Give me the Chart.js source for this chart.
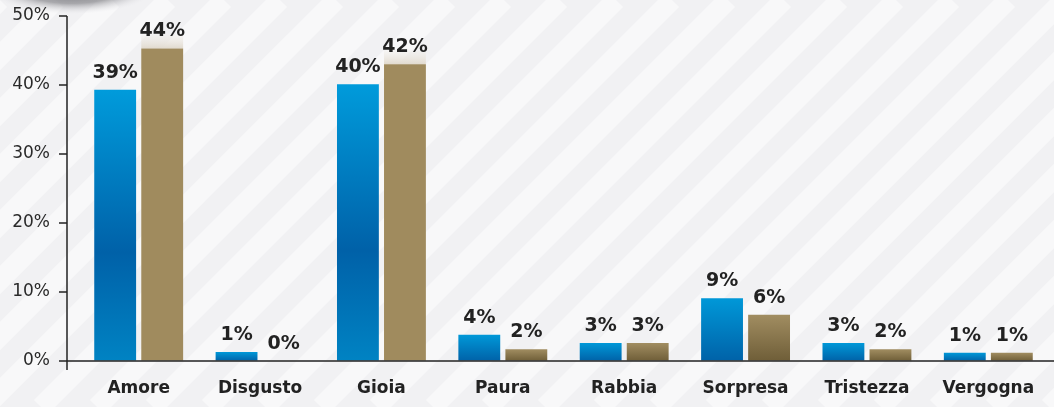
<!DOCTYPE html>
<html><head><meta charset="utf-8">
<script src="https://cdn.jsdelivr.net/npm/chart.js@4/dist/chart.umd.min.js"></script>
<style>html,body{margin:0;padding:0;background:#f3f3f5;}#wrap{width:1054px;height:407px;}</style>
</head><body><div id="wrap"><canvas id="c" width="1054" height="407"></canvas></div>
<script>
const categories = ["Amore","Disgusto","Gioia","Paura","Rabbia","Sorpresa","Tristezza","Vergogna"];
const seriesA = [39.3, 1.3, 40.1, 3.8, 2.6, 9.1, 2.6, 1.2];
const seriesB = [45.3, 0, 43.0, 1.7, 2.6, 6.7, 1.7, 1.2];
const labelsA = ["39%","1%","40%","4%","3%","9%","3%","1%"];
const labelsB = ["44%","0%","42%","2%","3%","6%","2%","1%"];
const yTicks = [0,10,20,30,40,50];

const FONT = "'DejaVu Sans', sans-serif";

function barGrad(ctx, tallStops, smallStops){
  const chart = ctx.chart;
  const y = chart.scales.y;
  if(!y || ctx.parsed === undefined) return tallStops[0][1];
  const top = y.getPixelForValue(ctx.parsed.y);
  const bot = y.getPixelForValue(0);
  if(!isFinite(top) || Math.abs(bot-top) < 1) return tallStops[0][1];
  const stops = (bot - top) > 100 ? tallStops : smallStops;
  const g = chart.ctx.createLinearGradient(0, top, 0, bot);
  stops.forEach(s => g.addColorStop(s[0], s[1]));
  return g;
}
const blueTall = [[0,'#009bdb'],[0.6,'#0061a8'],[1,'#0083c3']];
const blueSmall = [[0,'#0098d8'],[1,'#0062a8']];
const brownTall = [[0,'#a08b5e'],[1,'#a08b5e']];
const brownSmall = [[0,'#a18d61'],[1,'#6f5e38']];

const bgPlugin = {
  id:'bg',
  beforeDraw(chart){
    const c = chart.ctx, W = chart.width, H = chart.height;
    c.save();
    c.fillStyle = '#f1f1f3';
    c.fillRect(0,0,W,H);
    c.strokeStyle = 'rgba(255,255,255,0.5)';
    c.lineWidth = 20;
    for(let x=-H; x<W+H; x+=56){
      c.beginPath(); c.moveTo(x, H); c.lineTo(x+H, 0); c.stroke();
    }
    c.translate(72,-14);
    c.scale(1, 0.33);
    const rg = c.createRadialGradient(0,0,5,0,0,85);
    rg.addColorStop(0,'rgba(100,100,105,0.95)');
    rg.addColorStop(0.6,'rgba(135,135,140,0.7)');
    rg.addColorStop(1,'rgba(225,225,230,0)');
    c.fillStyle = rg;
    c.beginPath(); c.arc(0,0,85,0,Math.PI*2); c.fill();
    c.restore();
  }
};

const axisPlugin = {
  id:'axes',
  beforeDatasetsDraw(chart){
    const c = chart.ctx, y = chart.scales.y;
    const meta = chart.getDatasetMeta(1);
    c.save();
    meta.data.forEach((el) => {
      if (y.getPixelForValue(0) - el.y > 100) {
        const h = 14;
        const g = c.createLinearGradient(0, el.y - h, 0, el.y);
        g.addColorStop(0, 'rgba(240,237,232,0.3)');
        g.addColorStop(1, 'rgba(225,218,206,1)');
        c.fillStyle = g;
        c.fillRect(el.x - el.width/2, el.y - h, el.width, h);
      }
    });
    c.restore();
  },
  afterDatasetsDraw(chart){
    const c = chart.ctx, y = chart.scales.y, a = chart.chartArea;
    const ax = 67;
    c.save();
    c.strokeStyle = '#222'; c.lineWidth = 1.5;
    c.beginPath(); c.moveTo(ax, y.getPixelForValue(50)); c.lineTo(ax, a.bottom+9); c.stroke();
    c.beginPath(); c.moveTo(ax, a.bottom); c.lineTo(chart.width, a.bottom); c.stroke();
    yTicks.forEach(v => {
      const p = y.getPixelForValue(v);
      c.beginPath(); c.moveTo(ax-8, p); c.lineTo(ax, p); c.stroke();
    });
    c.fillStyle = '#222';
    c.font = "bold 19px " + FONT;
    c.textAlign = 'center'; c.textBaseline = 'alphabetic';
    [labelsA, labelsB].forEach((labs, di) => {
      const meta = chart.getDatasetMeta(di);
      meta.data.forEach((el, i) => {
        c.fillText(labs[i], el.x, el.y - 12);
      });
    });
    c.restore();
  }
};

new Chart(document.getElementById('c'), {
  type:'bar',
  data:{
    labels: categories,
    datasets:[
      {data: seriesA, backgroundColor: ctx => barGrad(ctx, blueTall, blueSmall), categoryPercentage:0.775, barPercentage:0.89},
      {data: seriesB, backgroundColor: ctx => barGrad(ctx, brownTall, brownSmall), categoryPercentage:0.775, barPercentage:0.89}
    ]
  },
  options:{
    responsive:false, animation:false,
    layout:{padding:{top:16, right:5, bottom:0, left:0}},
    plugins:{legend:{display:false}, tooltip:{enabled:false}},
    scales:{
      x:{
        afterFit(s){ s.height = 46; },
        grid:{display:true, drawOnChartArea:false, drawTicks:true, tickLength:17, tickColor:'rgba(0,0,0,0)'},
        border:{display:false},
        ticks:{padding:0, maxRotation:0, color:'#222', font:{family:FONT, size:17, weight:'bold'}}
      },
      y:{
        min:0, max:50,
        afterFit(s){ s.width = 78; },
        grid:{display:true, drawOnChartArea:false, drawTicks:true, tickLength:28, tickColor:'rgba(0,0,0,0)'},
        border:{display:false},
        ticks:{stepSize:10, padding:0, color:'#2a2a2a', font:{family:FONT, size:17}, callback:v => v + '%'}
      }
    }
  },
  plugins:[bgPlugin, axisPlugin]
});
</script>
</body></html>
